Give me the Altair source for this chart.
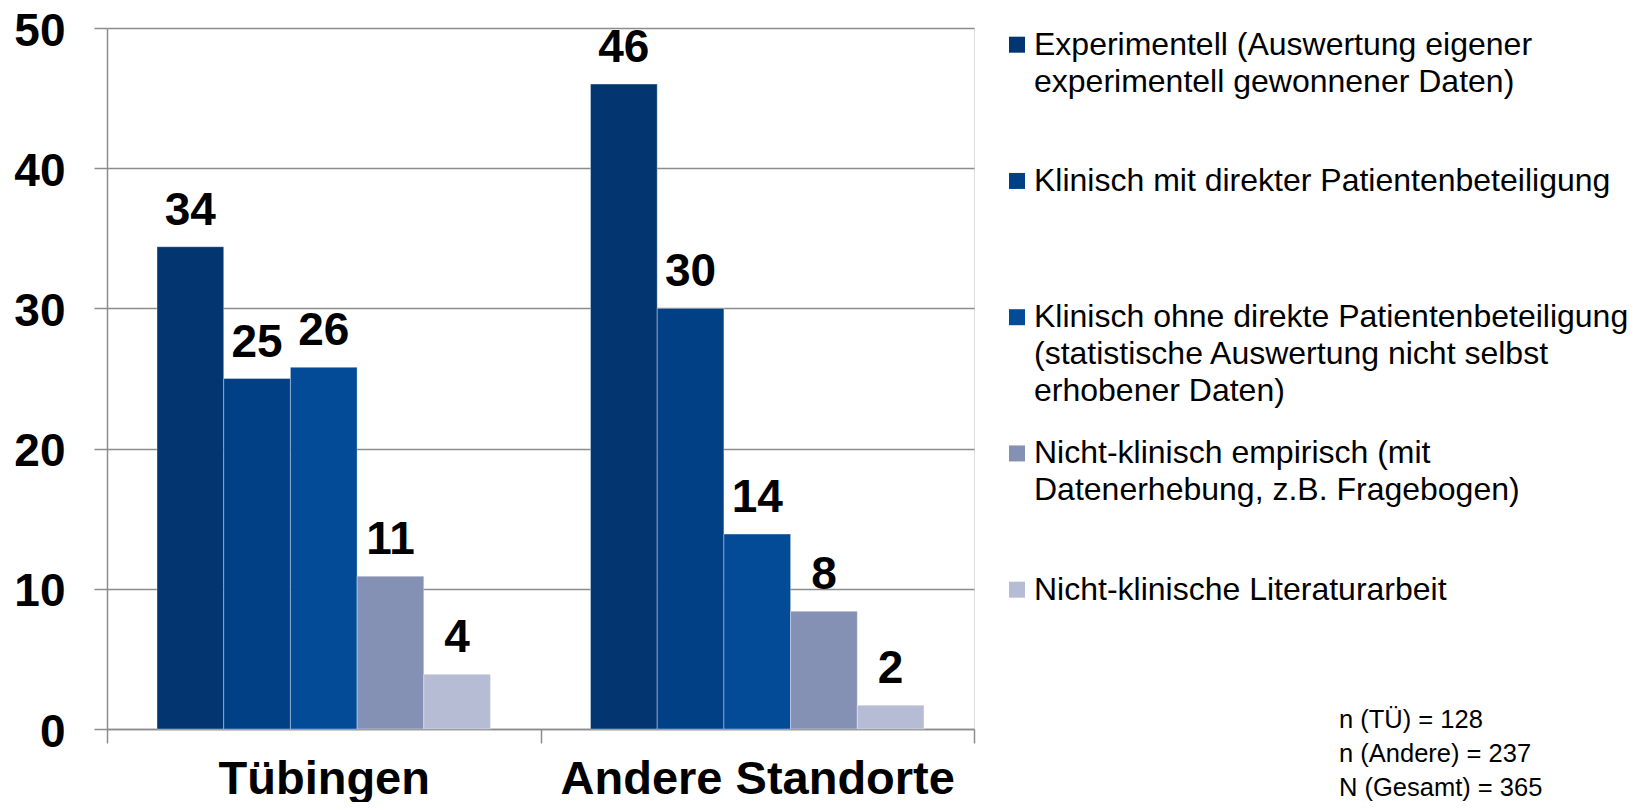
import altair as alt
import pandas as pd

# ---- data ----
locations = ["Tübingen", "Andere Standorte"]
categories = [
    "Experimentell",
    "Klinisch mit direkter Patientenbeteiligung",
    "Klinisch ohne direkte Patientenbeteiligung",
    "Nicht-klinisch empirisch",
    "Nicht-klinische Literaturarbeit",
]
legend_labels = [
    "Experimentell (Auswertung eigener\nexperimentell gewonnener Daten)",
    "Klinisch mit direkter Patientenbeteiligung",
    "Klinisch ohne direkte Patientenbeteiligung\n(statistische Auswertung nicht selbst\nerhobener Daten)",
    "Nicht-klinisch empirisch (mit\nDatenerhebung, z.B. Fragebogen)",
    "Nicht-klinische Literaturarbeit",
]
tuebingen_values = [34.4, 25.0, 25.8, 10.9, 3.9]
andere_values = [46.0, 30.0, 13.9, 8.4, 1.7]
colors = ["#033670", "#024085", "#034A97", "#8591B4", "#B6BCD3"]
sample_notes = ["n (TÜ) = 128", "n (Andere) = 237", "N (Gesamt) = 365"]
y_ticks = [0, 10, 20, 30, 40, 50]

rows = []
for loc, vals in zip(locations, [tuebingen_values, andere_values]):
    for cat, v in zip(categories, vals):
        rows.append({"location": loc, "category": cat, "value": v})
df = pd.DataFrame(rows)

leg_df = pd.DataFrame({
    "idx": list(range(len(categories))),
    "category": categories,
    "label": legend_labels,
})
notes_df = pd.DataFrame({"note": ["\n".join(sample_notes)]})

# ---- styles ----
FONT = "Liberation Sans"
GRAY = "#8c8c8c"
W, H = 867, 701

color_scale = alt.Scale(domain=categories, range=colors)
y_scale = alt.Scale(domain=[0, 50], nice=False)

x_enc = alt.X(
    "location:N",
    sort=locations,
    scale=alt.Scale(paddingInner=0, paddingOuter=0),
    axis=alt.Axis(
        title=None, labelAngle=0, labelFontSize=47, labelFontWeight="bold",
        labelColor="black", labelFont=FONT, tickBand="extent", tickSize=14,
        tickColor=GRAY, tickWidth=1.5, domainColor=GRAY, domainWidth=1.5,
        labelPadding=13, grid=False, labelLimit=1000,
    ),
)
xoff_enc = alt.XOffset(
    "category:N", sort=categories,
    scale=alt.Scale(paddingInner=0, paddingOuter=0.75),
)

bars = alt.Chart(df).mark_bar(
    stroke="white", strokeWidth=1, strokeOpacity=0.35
).encode(
    x=x_enc,
    xOffset=xoff_enc,
    y=alt.Y(
        "value:Q", scale=y_scale,
        axis=alt.Axis(
            values=y_ticks, title=None, labelFontSize=46, labelFontWeight="bold",
            labelColor="black", labelFont=FONT, labelPadding=29, labelOffset=3,
            tickSize=13, tickColor=GRAY, tickWidth=1.5, domainColor=GRAY,
            domainWidth=1.5, grid=True, gridColor=GRAY, gridWidth=1.5,
        ),
    ),
    color=alt.Color("category:N", sort=categories, scale=color_scale, legend=None),
)

labels = alt.Chart(df).mark_text(
    baseline="alphabetic", dy=-22, fontSize=46, fontWeight="bold",
    color="black", font=FONT,
).encode(
    x=x_enc,
    xOffset=xoff_enc,
    y=alt.Y("value:Q", scale=y_scale, axis=None),
    text=alt.Text("value:Q", format=".0f"),
)

leg_y = alt.Y("idx:Q", scale=alt.Scale(domain=[0, 4], range=[16.7, 561.7]), axis=None)

leg_sq = alt.Chart(leg_df).mark_square(size=256, opacity=1).encode(
    x=alt.value(910),
    y=leg_y,
    color=alt.Color("category:N", sort=categories, scale=color_scale, legend=None),
)

leg_text = alt.Chart(leg_df).mark_text(
    align="left", baseline="alphabetic", dy=10, fontSize=32, lineHeight=37,
    lineBreak="\n", color="black", font=FONT,
).encode(
    x=alt.value(927),
    y=leg_y,
    text="label:N",
)

notes = alt.Chart(notes_df).mark_text(
    align="left", baseline="alphabetic", fontSize=25.5, lineHeight=34,
    lineBreak="\n", color="black", font=FONT,
).encode(
    x=alt.value(1232),
    y=alt.value(700),
    text="note:N",
)

chart = alt.layer(bars, labels, leg_sq, leg_text, notes).resolve_scale(
    y="independent"
).properties(
    width=W, height=H,
    autosize=alt.AutoSizeParams(type="none"),
    padding={"left": 99, "top": 20, "right": 653, "bottom": 73},
).configure_view(strokeWidth=0, stroke="transparent").configure(font=FONT)

chart.save("out.html", embed_options={"renderer": "svg", "actions": False})
